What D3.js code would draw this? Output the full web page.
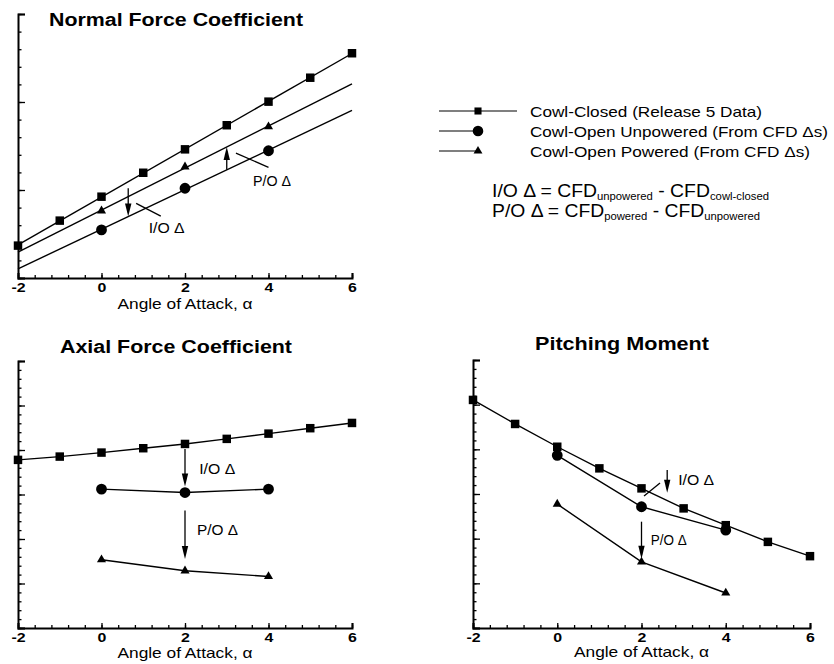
<!DOCTYPE html>
<html>
<head>
<meta charset="utf-8">
<script src="https://cdn.jsdelivr.net/npm/d3@7"></script>
<style>
  body { margin: 0; background: #fff; }
</style>
</head>
<body>
<div id="chart"></div>
<script>
// angle of attack, deg
const alphaAll = [-2, -1, 0, 1, 2, 3, 4, 5, 6];
const alphaCfd = [0, 2, 4];
const xTicks = [-2, 0, 2, 4, 6];

// coefficients (unlabelled axes, read in minor-tick units)
const normalClosed = [1.84, 3.26, 4.62, 5.98, 7.31, 8.68, 10.02, 11.38, 12.77];
const normalUnpowered = [2.73, 5.10, 7.23];
const normalPowered = [3.82, 6.32, 8.60];

const axialClosed = [18.89, 19.26, 19.71, 20.20, 20.68, 21.25, 21.84, 22.45, 23.04];
const axialUnpowered = [15.60, 15.22, 15.60];
const axialPowered = [7.67, 6.43, 5.79];

const pitchClosed = [25.53, 22.84, 20.29, 17.87, 15.63, 13.39, 11.51, 9.64, 8.04];
const pitchUnpowered = [19.33, 13.57, 10.95];
const pitchPowered = [13.87, 7.40, 3.92];

const legendLabels = ["Cowl-Closed (Release 5 Data)", "Cowl-Open Unpowered (From CFD \u0394s)", "Cowl-Open Powered (From CFD \u0394s)"];

const width = 834, height = 664;
const font = "'Liberation Sans', Arial, Helvetica, sans-serif";

const svg = d3.select("#chart").append("svg")
    .attr("width", width)
    .attr("height", height)
    .style("font-family", font);

const sym = {
    square: d3.symbol().type(d3.symbolSquare).size(72)(),
    circle: d3.symbol().type(d3.symbolCircle).size(92)(),
    triangle: d3.symbol().type(d3.symbolTriangle).size(36)()
};

// widen text like the scanned original
function stretch(sel, w) {
    sel.each(function () {
        const len = w || this.getComputedTextLength() * 1.18;
        d3.select(this).attr("textLength", len).attr("lengthAdjust", "spacingAndGlyphs");
    });
}

function fit(xs, ys) {
    const mx = d3.mean(xs), my = d3.mean(ys);
    const b = d3.sum(xs, (v, i) => (v - mx) * (ys[i] - my)) / d3.sum(xs, v => (v - mx) ** 2);
    return a => my + b * (a - mx);
}

const panels = [
    {
        title: "Normal Force Coefficient", titleX: 176, titleY: 26, titleW: 254,
        x0: 18, x1: 352, y0: 278, y1: 14, ymax: 15, fitted: true, labelY: 309,
        series: [
            { xs: alphaAll, ys: normalClosed, shape: "square" },
            { xs: alphaCfd, ys: normalPowered, shape: "triangle" },
            { xs: alphaCfd, ys: normalUnpowered, shape: "circle" }
        ],
        arrows: [{ a: 0.64, from: 5.1, to: 3.5 }, { a: 3.0, from: 6.15, to: 7.45 }],
        leaders: [{ a0: 0.83, v0: 4.24, a1: 1.42, v1: 3.52 }, { a0: 3.22, v0: 7.09, a1: 4.0, v1: 6.29 }],
        notes: [{ t: "I/O \u0394", a: 1.13, v: 2.56, w: 36 }, { t: "P/O \u0394", a: 3.63, v: 5.2, w: 38 }]
    },
    {
        title: "Axial Force Coefficient", titleX: 176, titleY: 352.5, titleW: 232,
        x0: 18, x1: 352, y0: 628, y1: 361, ymax: 30, fitted: false, labelY: 657.5,
        series: [
            { xs: alphaAll, ys: axialClosed, shape: "square" },
            { xs: alphaCfd, ys: axialUnpowered, shape: "circle" },
            { xs: alphaCfd, ys: axialPowered, shape: "triangle" }
        ],
        arrows: [{ a: 2, from: 20.1, to: 15.9 }, { a: 2, from: 13.2, to: 7.75 }],
        leaders: [],
        notes: [{ t: "I/O \u0394", a: 2.34, v: 17.3, w: 36 }, { t: "P/O \u0394", a: 2.29, v: 10.4, w: 41 }]
    },
    {
        title: "Pitching Moment", titleX: 622, titleY: 350, titleW: 174,
        x0: 473, x1: 810, y0: 628, y1: 360, ymax: 30, fitted: false, labelY: 657,
        series: [
            { xs: alphaAll, ys: pitchClosed, shape: "square" },
            { xs: alphaCfd, ys: pitchUnpowered, shape: "circle" },
            { xs: alphaCfd, ys: pitchPowered, shape: "triangle" }
        ],
        arrows: [{ a: 2.61, from: 17.68, to: 15.13 }, { a: 2, from: 11.9, to: 7.75 }],
        leaders: [{ a0: 2.06, v0: 14.78, a1: 2.44, v1: 16.24 }],
        notes: [{ t: "I/O \u0394", a: 2.87, v: 16.0, w: 36 }, { t: "P/O \u0394", a: 2.22, v: 9.3, w: 36 }]
    }
];

function drawPanel(p) {
    const x = d3.scaleLinear([-2, 6], [p.x0, p.x1]);
    const y = d3.scaleLinear([0, p.ymax], [p.y0, p.y1]);
    const g = svg.append("g");

    // x axis: minor ticks every 0.4, major at labels, all pointing inward
    g.append("g")
        .attr("transform", `translate(0,${p.y0})`)
        .call(d3.axisBottom(x).tickValues(d3.range(-2, 6.001, 0.4)).tickSize(-3).tickFormat(""))
        .call(a => a.select(".domain").remove());
    const xa = g.append("g")
        .attr("transform", `translate(0,${p.y0})`)
        .call(d3.axisBottom(x).tickValues(xTicks).tickSize(-5).tickSizeOuter(-5)
            .tickPadding(4.5).tickFormat(d => String(d)));
    xa.selectAll("text")
        .attr("font-family", font)
        .attr("font-size", 13.5)
        .attr("font-weight", "bold")
        .attr("fill", "#000")
        .call(stretch);

    // y axis: no labels
    g.append("g")
        .attr("transform", `translate(${p.x0},0)`)
        .call(d3.axisLeft(y).tickValues(d3.range(0, p.ymax + 0.001, 1)).tickSize(-3.5).tickFormat(""))
        .call(a => a.select(".domain").remove());
    g.append("g")
        .attr("transform", `translate(${p.x0},0)`)
        .call(d3.axisLeft(y).tickValues(d3.range(0, p.ymax + 0.001, 5)).tickSize(-7).tickSizeOuter(-7).tickFormat(""));

    g.selectAll(".domain").attr("stroke", "#000").attr("stroke-width", 2);
    g.selectAll(".tick line").attr("stroke", "#000").attr("stroke-width", 1.3);

    const line = d3.line().x(d => x(d[0])).y(d => y(d[1]));

    p.series.forEach(s => {
        let pts;
        if (p.fitted) {
            const f = fit(s.xs, s.ys);
            pts = [[-2, f(-2)], [6, f(6)]];
        } else {
            pts = s.xs.map((a, i) => [a, s.ys[i]]);
        }
        g.append("path")
            .attr("d", line(pts))
            .attr("fill", "none")
            .attr("stroke", "#000")
            .attr("stroke-width", 1.4);
    });

    p.series.forEach(s => {
        g.append("g").selectAll("path")
            .data(s.xs.map((a, i) => [a, s.ys[i]]))
            .join("path")
            .attr("d", sym[s.shape])
            .attr("transform", d => `translate(${x(d[0])},${y(d[1])})`)
            .attr("fill", "#000");
    });

    // delta arrows
    p.arrows.forEach(ar => {
        const ax = x(ar.a), yf = y(ar.from), yt = y(ar.to);
        const dir = yt > yf ? 1 : -1;
        g.append("line")
            .attr("x1", ax).attr("x2", ax)
            .attr("y1", yf).attr("y2", yt - dir * 4)
            .attr("stroke", "#000").attr("stroke-width", 1.3);
        g.append("path")
            .attr("d", `M${ax},${yt}L${ax - 3.2},${yt - dir * 13}L${ax + 3.2},${yt - dir * 13}Z`)
            .attr("fill", "#000");
    });

    p.leaders.forEach(l => {
        g.append("line")
            .attr("x1", x(l.a0)).attr("y1", y(l.v0))
            .attr("x2", x(l.a1)).attr("y2", y(l.v1))
            .attr("stroke", "#000").attr("stroke-width", 1.3);
    });

    p.notes.forEach(n => {
        g.append("text")
            .attr("x", x(n.a)).attr("y", y(n.v))
            .attr("font-size", 14)
            .text(n.t)
            .call(stretch, n.w);
    });

    g.append("text")
        .attr("x", p.titleX).attr("y", p.titleY)
        .attr("text-anchor", "middle")
        .attr("font-size", 18)
        .attr("font-weight", "bold")
        .text(p.title)
        .call(stretch, p.titleW);

    g.append("text")
        .attr("x", (p.x0 + p.x1) / 2).attr("y", p.labelY)
        .attr("text-anchor", "middle")
        .attr("font-size", 14.5)
        .text("Angle of Attack, \u03b1")
        .call(stretch, 135);
}

panels.forEach(drawPanel);

// legend
const legend = svg.append("g");
const legendTypes = [d3.symbolSquare, d3.symbolCircle, d3.symbolTriangle];
const legendSizes = [50, 88, 34];
const legendW = [232, 298, 280];
const legendY = [111, 131, 151];
const legendLineEnd = [517, 479, 479];
legendLabels.forEach((t, i) => {
    legend.append("line")
        .attr("x1", 439).attr("x2", legendLineEnd[i])
        .attr("y1", legendY[i]).attr("y2", legendY[i])
        .attr("stroke", "#000").attr("stroke-width", 1.2);
    legend.append("path")
        .attr("d", d3.symbol().type(legendTypes[i]).size(legendSizes[i])())
        .attr("transform", `translate(478,${legendY[i]})`)
        .attr("fill", "#000");
    legend.append("text")
        .attr("x", 530).attr("y", legendY[i] + 5.5)
        .attr("font-size", 15)
        .text(t)
        .call(stretch, legendW[i]);
});

// delta definitions
const defs = [
    { y: 196.5, w: 277, parts: ["I/O \u0394 = CFD", "unpowered", " - CFD", "cowl-closed"] },
    { y: 216.5, w: 268, parts: ["P/O \u0394 = CFD", "powered", " - CFD", "unpowered"] }
];
defs.forEach(d => {
    const t = svg.append("text").attr("x", 492).attr("y", d.y).attr("font-size", 18);
    d.parts.forEach((s, i) => {
        const sub = i % 2 === 1;
        t.append("tspan")
            .attr("font-size", sub ? 10.5 : 18)
            .attr("dy", i === 0 ? 0 : (sub ? 3 : -3))
            .text(s);
    });
    t.call(stretch, d.w);
});
</script>
</body>
</html>
